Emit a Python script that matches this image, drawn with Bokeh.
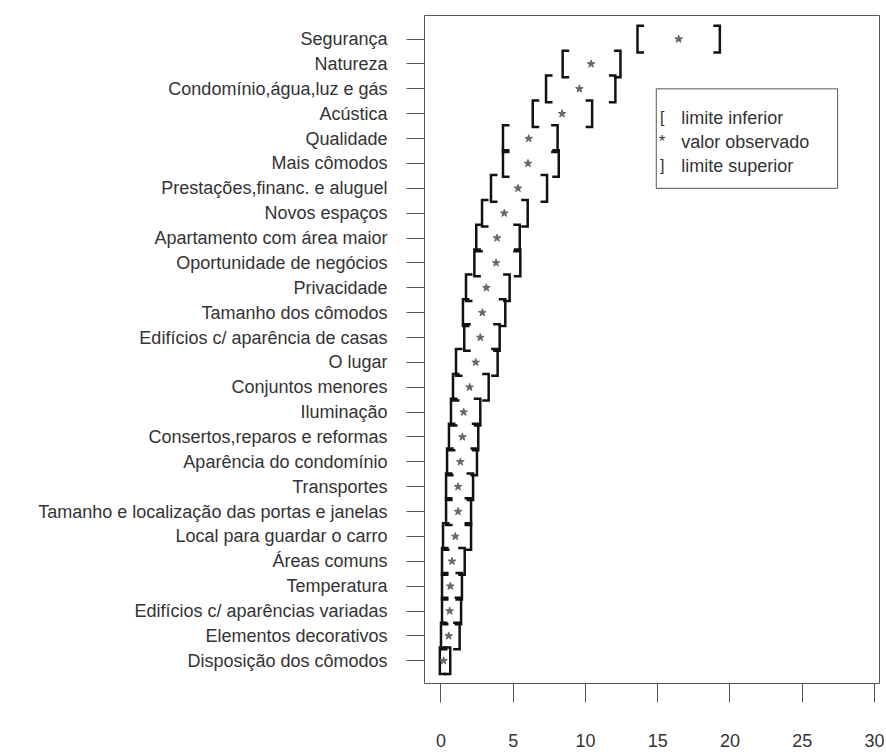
from bokeh.plotting import figure
from bokeh.models import FixedTicker, Range1d, BoxAnnotation, Label
from bokeh.embed import file_html
from bokeh.resources import INLINE

categories = [
    "Segurança", "Natureza", "Condomínio,água,luz e gás", "Acústica", "Qualidade",
    "Mais cômodos", "Prestações,financ. e aluguel", "Novos espaços",
    "Apartamento com área maior", "Oportunidade de negócios", "Privacidade",
    "Tamanho dos cômodos", "Edifícios c/ aparência de casas", "O lugar",
    "Conjuntos menores", "Iluminação", "Consertos,reparos e reformas",
    "Aparência do condomínio", "Transportes",
    "Tamanho e localização das portas e janelas", "Local para guardar o carro",
    "Áreas comuns", "Temperatura", "Edifícios c/ aparências variadas",
    "Elementos decorativos", "Disposição dos cômodos",
]
lower = [13.6, 8.42, 7.27, 6.35, 4.29, 4.29, 3.46, 2.84, 2.44, 2.31, 1.73, 1.52, 1.61,
         1.04, 0.83, 0.69, 0.55, 0.42, 0.35, 0.35, 0.14, 0.07, 0.07, 0.07, 0.0, -0.08]
observed = [16.45, 10.39, 9.58, 8.38, 6.07, 6.02, 5.33, 4.38, 3.88, 3.81, 3.14, 2.86, 2.72,
            2.40, 1.98, 1.57, 1.48, 1.34, 1.18, 1.18, 0.99, 0.76, 0.64, 0.60, 0.53, 0.18]
upper = [19.3, 12.42, 12.07, 10.46, 8.07, 8.15, 7.34, 6.0, 5.45, 5.49, 4.75, 4.45, 4.06,
         3.92, 3.30, 2.72, 2.58, 2.49, 2.22, 2.08, 2.08, 1.64, 1.45, 1.39, 1.29, 0.64]
x_ticks = [0, 5, 10, 15, 20, 25, 30]
legend_labels = ["limite inferior", "valor observado", "limite superior"]
legend_symbols = ["[", "*", "]"]

n = len(categories)
ypos = [n - i for i in range(n)]

FONT = "Liberation Sans"
TXT = "#333333"

p = figure(width=884, height=754, output_backend="svg", toolbar_location=None,
           x_range=Range1d(-1.142, 30.35), y_range=Range1d(0.087, 26.95),
           min_border_left=424, min_border_right=5, min_border_top=15, min_border_bottom=71)
p.background_fill_color = "white"
p.border_fill_color = "white"
p.outline_line_color = "#555555"
p.outline_line_width = 1
p.grid.visible = False

# brackets
s = 0.45   # serif length in x units
h = 0.535  # half height
lxs, lys, rxs, rys = [], [], [], []
for lo, hi, y in zip(lower, upper, ypos):
    lxs.append([lo + s, lo, lo, lo + s])
    lys.append([y + h, y + h, y - h, y - h])
    rxs.append([hi - s, hi, hi, hi - s])
    rys.append([y + h, y + h, y - h, y - h])
p.multi_line(lxs, lys, line_color="#111111", line_width=2.5, line_join="miter", line_cap="butt")
p.multi_line(rxs, rys, line_color="#111111", line_width=2.5, line_join="miter", line_cap="butt")
p.scatter(observed, ypos, marker="star", size=8, fill_color="#666666", line_color="#666666")

# axes
yax = p.yaxis[0]
yax.ticker = FixedTicker(ticks=ypos)
yax.major_label_overrides = {y: c for y, c in zip(ypos, categories)}
yax.axis_line_color = None
yax.major_tick_out = 18
yax.major_tick_in = 0
yax.minor_tick_line_color = None
yax.major_tick_line_color = "#555555"
yax.major_label_standoff = 19
yax.major_label_text_font = FONT
yax.major_label_text_font_size = "18px"
yax.major_label_text_color = TXT

xax = p.xaxis[0]
xax.ticker = FixedTicker(ticks=x_ticks)
xax.axis_line_color = None
xax.major_tick_out = 19
xax.major_tick_in = 0
xax.minor_tick_line_color = None
xax.major_tick_line_color = "#555555"
xax.major_label_standoff = 31
xax.major_label_text_font = FONT
xax.major_label_text_font_size = "18px"
xax.major_label_text_color = TXT

# legend box
p.add_layout(BoxAnnotation(left=14.9, right=27.45, bottom=20.0, top=24.0,
                           fill_color="white", fill_alpha=1.0,
                           line_color="#555555", line_width=1, line_alpha=1.0))
leg_y = [22.84, 21.87, 20.91]
for sym, lab, ly in zip(legend_symbols, legend_labels, leg_y):
    p.add_layout(Label(x=15.31, y=ly, text=sym, text_baseline="middle", text_align="center",
                       text_font=FONT, text_font_size="16px", text_color=TXT))
    p.add_layout(Label(x=16.63, y=ly, text=lab, text_baseline="middle", text_align="left",
                       text_font=FONT, text_font_size="18px", text_color=TXT))

open("out.html", "w").write(file_html(p, INLINE))
